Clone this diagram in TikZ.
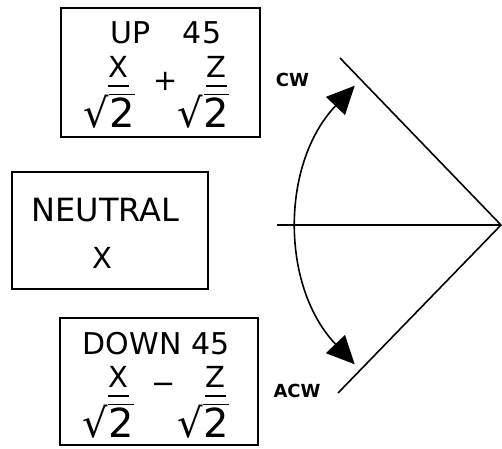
\documentclass[tikz,border=0pt]{standalone}
\usepackage{fontspec}
\setmainfont{DejaVu Sans}
\usepackage{tikz}
\usetikzlibrary{positioning,arrows.meta}

\tikzset{
  panel/.style={rectangle,draw,line width=1.5pt,inner sep=0pt},
  headtext/.style={inner sep=0pt,font=\fontsize{30}{34}\selectfont},
  numtext/.style={inner sep=0pt,font=\fontsize{29}{32}\selectfont},
  digittext/.style={inner sep=0pt,anchor=base,font=\fontsize{40}{44}\selectfont},
  roottext/.style={inner sep=0pt,anchor=base east,font=\fontsize{40}{44}\selectfont},
  sensetext/.style={inner sep=0pt,font=\bfseries\fontsize{18}{20}\selectfont},
  barline/.style={line width=1.6pt},
  axisline/.style={line width=1.6pt},
  turnarrow/.style={line width=1.6pt,{Triangle[length=28pt,width=26pt]}-{Triangle[length=28pt,width=26pt]}}
}

\begin{document}
\begin{tikzpicture}[x=1pt,y=-1pt]
\useasboundingbox (0,0) rectangle (502,448);

% the three boxes
\node[panel,minimum width=199pt,minimum height=129pt] (upbox) at (160.5,72.5) {};
\node[panel,minimum width=196pt,minimum height=117pt] (neutralbox) at (110,230.5) {};
\node[panel,minimum width=198pt,minimum height=127pt] (downbox) at (159,381.5) {};

% up 45
\node[headtext] (uptitle) at (166,33) {UP\hspace{32pt}45};
\node[numtext] (upx) at (118.5,67) {X};
\node[digittext] (upxtwo) at (122,127) {2};
\node[roottext] (upxroot) at (upxtwo.base west) {√};
\node[numtext] (upplus) at (166,81) {+};
\node[numtext] (upz) at (216.5,67) {Z};
\node[digittext] (upztwo) at (216.5,127) {2};
\node[roottext] (upzroot) at (upztwo.base west) {√};
\draw[barline] ([yshift=-8pt]upx.south west) -- ([yshift=-8pt]upx.south east);
\draw[barline] ([yshift=-8pt]upz.south west) -- ([yshift=-8pt]upz.south east);
\draw[barline] (upxroot.north east) -- (upxroot.north east -| upxtwo.east);
\draw[barline] (upzroot.north east) -- (upzroot.north east -| upztwo.east);

% neutral
\node[headtext,font=\fontsize{32}{36}\selectfont] (neutraltitle) at (105.5,210.5) {NEUTRAL};
\node[numtext] (neutralx) at (102.5,257.5) {X};

% down 45
\node[headtext] (downtitle) at (156,343.5) {DOWN 45};
\node[numtext] (downx) at (118.5,377) {X};
\node[digittext] (downxtwo) at (121,437) {2};
\node[roottext] (downxroot) at (downxtwo.base west) {√};
\node[numtext] (downminus) at (164,388) {−};
\node[numtext] (downz) at (215.5,377) {Z};
\node[digittext] (downztwo) at (216,437) {2};
\node[roottext] (downzroot) at (downztwo.base west) {√};
\draw[barline] ([yshift=-8pt]downx.south west) -- ([yshift=-8pt]downx.south east);
\draw[barline] ([yshift=-8pt]downz.south west) -- ([yshift=-8pt]downz.south east);
\draw[barline] (downxroot.north east) -- (downxroot.north east -| downxtwo.east);
\draw[barline] (downzroot.north east) -- (downzroot.north east -| downztwo.east);

% axes and turn
\coordinate (vtx) at (501,225);
\coordinate (upend) at (340,58);
\coordinate (lowend) at (338,393);
\coordinate (horend) at (277,225);
\draw[axisline] (upend) -- (vtx) -- (lowend);
\draw[axisline] (horend) -- (vtx);
\path (vtx) ++(223.6:202) coordinate (cwtip);
\draw[turnarrow] (cwtip) arc[start angle=223.6,end angle=136.4,radius=202];

\node[sensetext] (cwlabel) at (292.5,80) {CW};
\node[sensetext] (acwlabel) at (297,391) {ACW};
\end{tikzpicture}
\end{document}
